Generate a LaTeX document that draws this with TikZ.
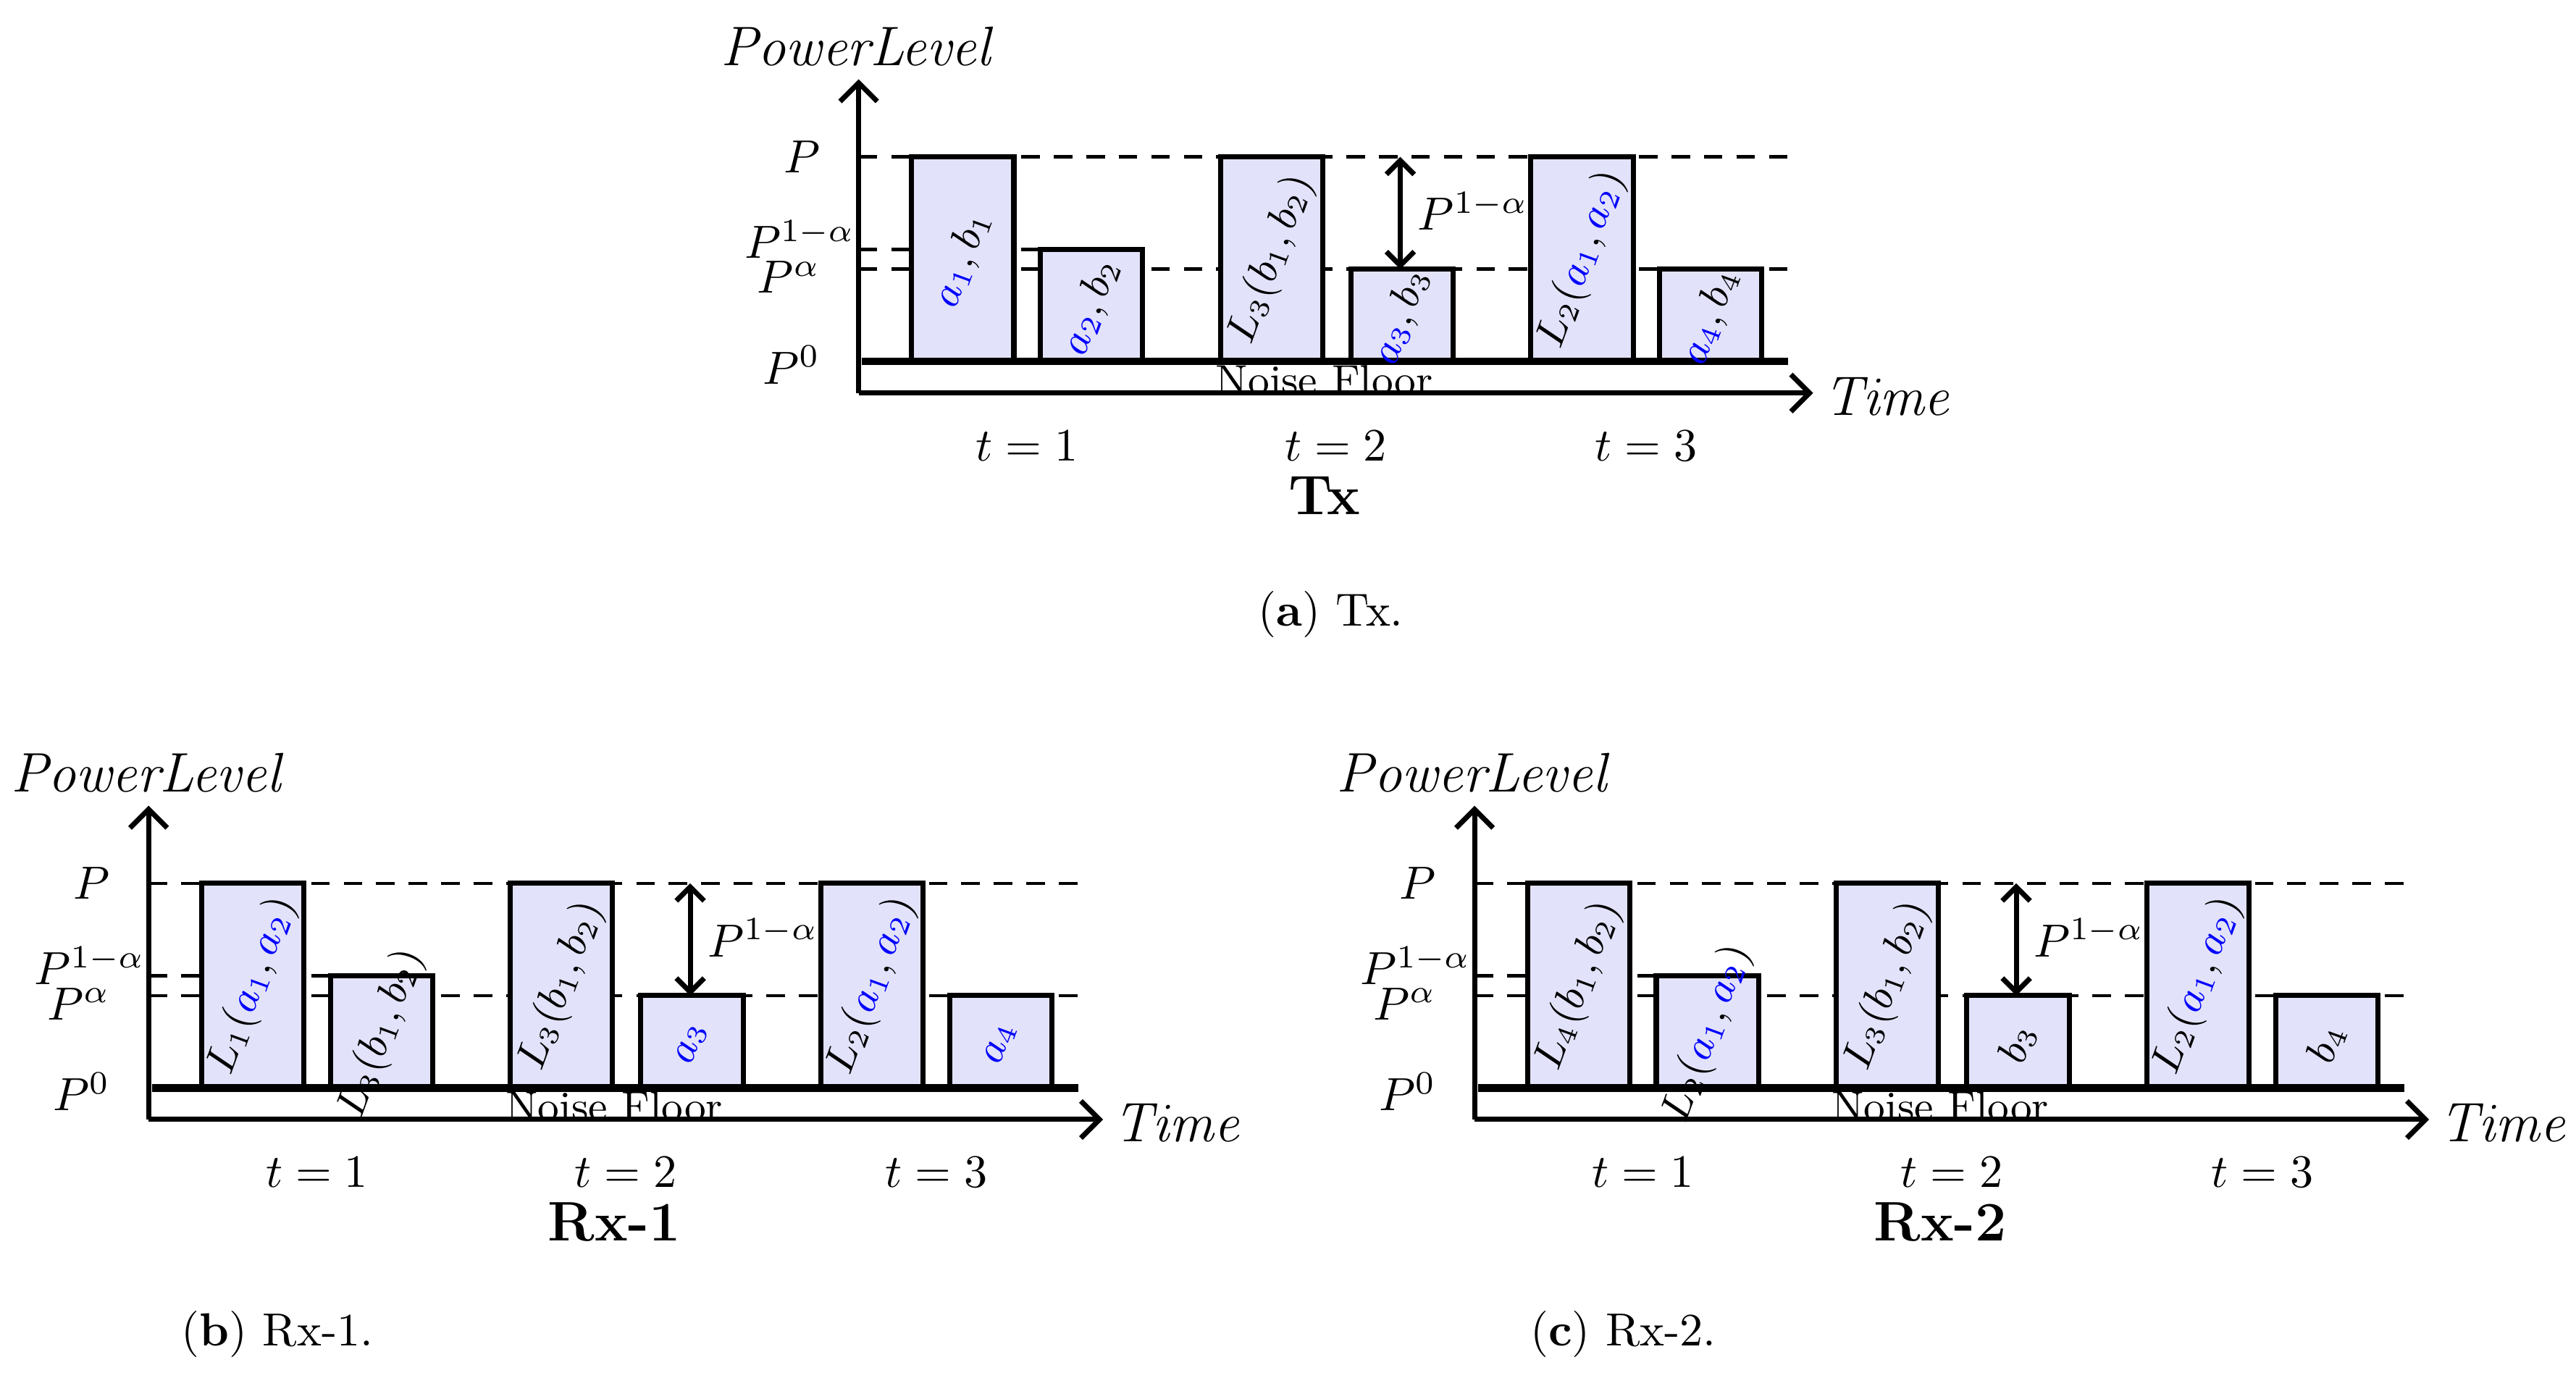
\documentclass[tikz,border=0pt]{standalone}
\usetikzlibrary{arrows.meta}
\definecolor{barfill}{RGB}{226,226,250}
\newcommand{\ba}[1]{{\color{blue}a_{#1}}}
\newcommand{\myPanel}[8]{%
\begin{scope}[shift={(#1)}]
 \draw[dashline] (520,95) -- (1083,95);
 \draw[dashline] (520,151) -- (630,151);
 \draw[dashline] (520,163) -- (1083,163);
 \draw[bar] (552,219) rectangle (614,95);
 \draw[bar] (630,219) rectangle (692,151);
 \draw[bar] (739,219) rectangle (801,95);
 \draw[bar] (818,219) rectangle (880,163);
 \draw[bar] (927,219) rectangle (989,95);
 \draw[bar] (1005,219) rectangle (1067,163);
 \draw[line width=1.6pt] (522,219) -- (1083,219);
 \coordinate (#2-o) at (520,238);
 \coordinate (#2-y) at (520,48);
 \coordinate (#2-x) at (1098,238);
 \draw[axis] (#2-o) -- (#2-y);
 \draw[axis] (#2-o) -- (#2-x);
 \coordinate (#2-at) at (848,95);
 \coordinate (#2-ab) at (848,163);
 \draw[axis,{Straight Barb[length=3pt]}-{Straight Barb[length=3pt]}] (#2-at) -- (#2-ab);
 \node (#2-alab) at (892,128) {$P^{1-\alpha}$};
 \node[anchor=east] (#2-lP) at (500,95) {$P$};
 \node[anchor=east] (#2-l1a) at (521,145) {$P^{1-\alpha}$};
 \node[anchor=east] (#2-la) at (500,168) {$P^{\alpha}$};
 \node[anchor=east] (#2-l0) at (500,221) {$P^{0}$};
 \node[font=\large] (#2-pl) at (520,28) {$\mathit{PowerLevel}$};
 \node[font=\large,anchor=west] (#2-time) at (1101,240) {$\mathit{Time}$};
 \node[font=\small] (#2-nf) at (802,230) {Noise Floor};
 \node (#2-t1) at (622,270) {$t=1$};
 \node (#2-t2) at (809,270) {$t=2$};
 \node (#2-t3) at (997,270) {$t=3$};
 \node[font=\large\bfseries] (#2-title) at (802,300) {#3};
 \node[lab] (#2-b1) at (583,157) {#4};
 \node[lab] (#2-b2) at (661,186) {#5};
 \node[lab] (#2-b3) at (770,157) {#6};
 \node[lab] (#2-b4) at (849,192) {#7};
 \node[lab] (#2-b5) at (958,157) {#8};
\end{scope}}
\begin{document}
\begin{tikzpicture}[x=0.0125cm,y=-0.0125cm,
  bar/.style={draw=black,fill=barfill,line width=1.1pt},
  dashline/.style={dash pattern=on 4pt off 3pt,line width=0.7pt},
  axis/.style={line width=1.1pt,-{Straight Barb[length=4pt]}},
  lab/.style={rotate=70,font=\small},
  every node/.style={inner sep=1pt}]
\useasboundingbox (0,0) rectangle (1560,839);
\myPanel{0,0}{a}{Tx}{$\ba1,b_1$}{$\ba2,b_2$}{$L_3(b_1,b_2)$}{$\ba3,b_3$}{$L_2(\ba1,\ba2)$}
\node[lab] (a-b6) at (1036,192) {$\ba4,b_4$};
\node (capa) at (806,372) {(\textbf{a}) Tx.};
\myPanel{-430,440}{b}{Rx-1}{$L_1(\ba1,\ba2)$}{$L_3(b_1,b_2)$}{$L_3(b_1,b_2)$}{$\ba3$}{$L_2(\ba1,\ba2)$}
\node[lab] (b-b6) at (606,632) {$\ba4$};
\node (capb) at (168,808) {(\textbf{b}) Rx-1.};
\myPanel{373,440}{c}{Rx-2}{$L_4(b_1,b_2)$}{$L_2(\ba1,\ba2)$}{$L_3(b_1,b_2)$}{$b_3$}{$L_2(\ba1,\ba2)$}
\node[lab] (c-b6) at (1409,632) {$b_4$};
\node (capc) at (983,808) {(\textbf{c}) Rx-2.};
\end{tikzpicture}
\end{document}
